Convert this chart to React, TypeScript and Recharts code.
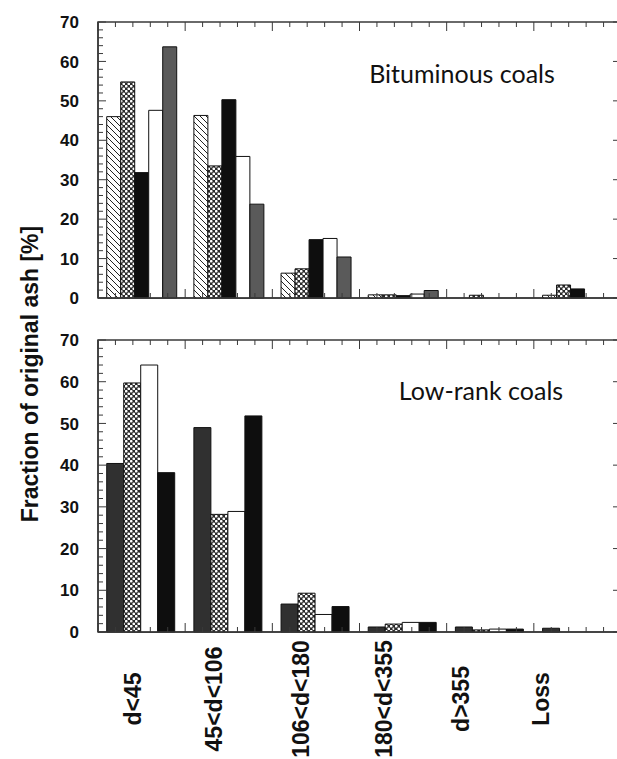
import React from "react";
import { BarChart, Bar, XAxis, YAxis, ReferenceArea } from "recharts";

// Size classes (x axis categories)
const categories = ["d<45", "45<d<106", "106<d<180", "180<d<355", "d>355", "Loss"];

// Bituminous coals (top panel), fraction of original ash [%]
const bitHatched = [46, 46.3, 6.3, 0.8, 0, 0.7];
const bitDotted = [54.8, 33.5, 7.4, 0.8, 0.7, 3.3];
const bitBlack = [31.8, 50.3, 14.8, 0.6, 0, 2.3];
const bitWhite = [47.6, 35.9, 15.1, 1.0, 0, 0];
const bitGray = [63.7, 23.8, 10.4, 1.9, 0, 0];

// Low-rank coals (bottom panel)
const lowDark = [40.4, 49, 6.7, 1.2, 1.2, 0.9];
const lowDotted = [59.7, 28.2, 9.3, 1.9, 0.5, 0];
const lowWhite = [64, 28.9, 4.2, 2.3, 0.7, 0];
const lowBlack = [38.2, 51.8, 6.1, 2.3, 0.7, 0];

// Axis ticks
const yTicksAll = [0, 2, 4, 6, 8, 10, 12, 14, 16, 18, 20, 22, 24, 26, 28, 30, 32, 34, 36, 38, 40, 42, 44, 46, 48, 50, 52, 54, 56, 58, 60, 62, 64, 66, 68, 70];

const titleTop = "Bituminous coals";
const titleBottom = "Low-rank coals";
const yAxisTitle = "Fraction of original ash [%]";

const topData = categories.map((c, i) => ({
  cat: c,
  hatched: bitHatched[i],
  dotted: bitDotted[i],
  black: bitBlack[i],
  white: bitWhite[i],
  gray: bitGray[i],
}));

const bottomData = categories.map((c, i) => ({
  cat: c,
  dark: lowDark[i],
  dotted: lowDotted[i],
  white: lowWhite[i],
  black: lowBlack[i],
}));

// Layout constants
const FONT = "'Liberation Sans', Arial, sans-serif";
const AXIS = "#3a3a3a";
const LABEL_DX = [-9, -15, -15, -19, -29, -36];
const CHART_W = 641;
const Y_AXIS_W = 98;
const RIGHT_M = 20;
const PLOT_LEFT = Y_AXIS_W;
const PLOT_RIGHT = CHART_W - RIGHT_M;

const TOP_H = 320;
const TOP_MT = 22;
const TOP_XH = 22;
const BOT_H = 439;
const BOT_MT = 20;
const BOT_XH = 127;

function LeftTick(props: any) {
  const { y, payload } = props;
  const v = payload.value;
  const major = v % 10 === 0;
  return (
    <g>
      <line x1={PLOT_LEFT} x2={PLOT_LEFT + (major ? 8 : 5)} y1={y} y2={y} stroke={AXIS} strokeWidth={1} />
      {major && (
        <line x1={PLOT_RIGHT} x2={PLOT_RIGHT - 8} y1={y} y2={y} stroke={AXIS} strokeWidth={1} />
      )}
      {major && (
        <text
          x={PLOT_LEFT - 19}
          y={y}
          dy="0.36em"
          textAnchor="end"
          fontFamily={FONT}
          fontWeight="bold"
          fontSize={17}
          fill="#111"
        >
          {v}
        </text>
      )}
    </g>
  );
}

function CatTick(props: any) {
  const { x, payload, index, showLabel, count, plotTop, plotBottom } = props;
  const half = payload && payload.offset ? payload.offset : 43.5;
  const left = x - half;
  const step = (2 * half) / 5;
  const lines: any[] = [];
  const add = (xx: number, len: number, key: string) => {
    lines.push(<line key={key + "b"} x1={xx} x2={xx} y1={plotBottom} y2={plotBottom - len} stroke={AXIS} strokeWidth={1} />);
    lines.push(<line key={key + "t"} x1={xx} x2={xx} y1={plotTop} y2={plotTop + len} stroke={AXIS} strokeWidth={1} />);
  };
  add(left, 9, "m0");
  for (let k = 1; k < 5; k++) add(left + k * step, 5, "n" + k);
  if (index === count - 1) add(x + half, 9, "m1");
  return (
    <g>
      {lines}
      {showLabel && (
        <text
          transform={`translate(${x + LABEL_DX[index]},${plotBottom + 67}) rotate(-90)`}
          textAnchor="middle"
          dominantBaseline="central"
          fontFamily={FONT}
          fontWeight="bold"
          fontSize={23}
          fill="#111"
        >
          {payload.value}
        </text>
      )}
    </g>
  );
}

const barStroke = { stroke: "#111", strokeWidth: 1 };

export default function App() {
  const n = categories.length;
  const topPlotBottom = TOP_H - TOP_XH;
  const botPlotBottom = BOT_H - BOT_XH;
  return (
    <div
      style={{
        position: "absolute",
        left: 0,
        top: 0,
        width: 617,
        height: 759,
        overflow: "hidden",
        background: "#fff",
      }}
    >
      <svg width={0} height={0} style={{ position: "absolute" }}>
        <defs>
          <pattern id="hatch" width={6} height={6} patternUnits="userSpaceOnUse">
            <rect width={6} height={6} fill="#fff" />
            <path d="M0,0 L6,6 M-1,5 L1,7 M5,-1 L7,1" stroke="#222" strokeWidth={1} />
          </pattern>
          <pattern id="dots" width={5} height={5} patternUnits="userSpaceOnUse">
            <rect width={5} height={5} fill="#2a2a2a" />
            <circle cx={1.25} cy={1.25} r={1.35} fill="#fff" />
            <circle cx={3.75} cy={3.75} r={1.35} fill="#fff" />
          </pattern>
        </defs>
      </svg>

      <div style={{ position: "absolute", left: 0, top: 0 }}>
        <BarChart
          width={CHART_W}
          height={TOP_H}
          data={topData}
          margin={{ top: TOP_MT, right: RIGHT_M, bottom: 0, left: 0 }}
          barCategoryGap="10%"
          barGap={0}
        >
          <XAxis
            dataKey="cat"
            height={TOP_XH}
            interval={0}
            tickLine={false}
            axisLine={{ stroke: AXIS, strokeWidth: 1.5 }}
            tick={(p: any) => (
              <CatTick {...p} showLabel={false} count={n} plotTop={TOP_MT} plotBottom={topPlotBottom} />
            )}
          />
          <YAxis
            width={Y_AXIS_W}
            type="number"
            domain={[0, 70]}
            ticks={yTicksAll}
            interval={0}
            tickLine={false}
            axisLine={{ stroke: AXIS, strokeWidth: 1.5 }}
            tick={(p: any) => <LeftTick {...p} />}
          />
          <ReferenceArea y1={0} y2={70} fill="none" stroke={AXIS} strokeWidth={1.5} />
          <Bar dataKey="hatched" fill="url(#hatch)" {...barStroke} isAnimationActive={false} />
          <Bar dataKey="dotted" fill="url(#dots)" {...barStroke} isAnimationActive={false} />
          <Bar dataKey="black" fill="#0e0e0e" {...barStroke} isAnimationActive={false} />
          <Bar dataKey="white" fill="#ffffff" {...barStroke} isAnimationActive={false} />
          <Bar dataKey="gray" fill="#5a5a5a" {...barStroke} isAnimationActive={false} />
        </BarChart>
      </div>

      <div style={{ position: "absolute", left: 0, top: TOP_H }}>
        <BarChart
          width={CHART_W}
          height={BOT_H}
          data={bottomData}
          margin={{ top: BOT_MT, right: RIGHT_M, bottom: 0, left: 0 }}
          barCategoryGap="10%"
          barGap={0}
        >
          <XAxis
            dataKey="cat"
            height={BOT_XH}
            interval={0}
            tickLine={false}
            axisLine={{ stroke: AXIS, strokeWidth: 1.5 }}
            tick={(p: any) => (
              <CatTick {...p} showLabel={true} count={n} plotTop={BOT_MT} plotBottom={botPlotBottom} />
            )}
          />
          <YAxis
            width={Y_AXIS_W}
            type="number"
            domain={[0, 70]}
            ticks={yTicksAll}
            interval={0}
            tickLine={false}
            axisLine={{ stroke: AXIS, strokeWidth: 1.5 }}
            tick={(p: any) => <LeftTick {...p} />}
          />
          <ReferenceArea y1={0} y2={70} fill="none" stroke={AXIS} strokeWidth={1.5} />
          <Bar dataKey="dark" fill="#303030" {...barStroke} isAnimationActive={false} />
          <Bar dataKey="dotted" fill="url(#dots)" {...barStroke} isAnimationActive={false} />
          <Bar dataKey="white" fill="#ffffff" {...barStroke} isAnimationActive={false} />
          <Bar dataKey="black" fill="#0e0e0e" {...barStroke} isAnimationActive={false} />
        </BarChart>
      </div>

      <svg
        width={617}
        height={759}
        style={{ position: "absolute", left: 0, top: 0, pointerEvents: "none" }}
      >
        <text
          transform="translate(30,374) rotate(-90)"
          textAnchor="middle"
          dominantBaseline="central"
          fontFamily={FONT}
          fontWeight="bold"
          fontSize={23}
          fill="#111"
        >
          {yAxisTitle}
        </text>
        <text x={462} y={83} textAnchor="middle" fontFamily="Lato, 'Open Sans', sans-serif" fontSize={25} fill="#111">
          {titleTop}
        </text>
        <text x={481} y={400} textAnchor="middle" fontFamily="Lato, 'Open Sans', sans-serif" fontSize={25} fill="#111">
          {titleBottom}
        </text>
      </svg>
    </div>
  );
}
